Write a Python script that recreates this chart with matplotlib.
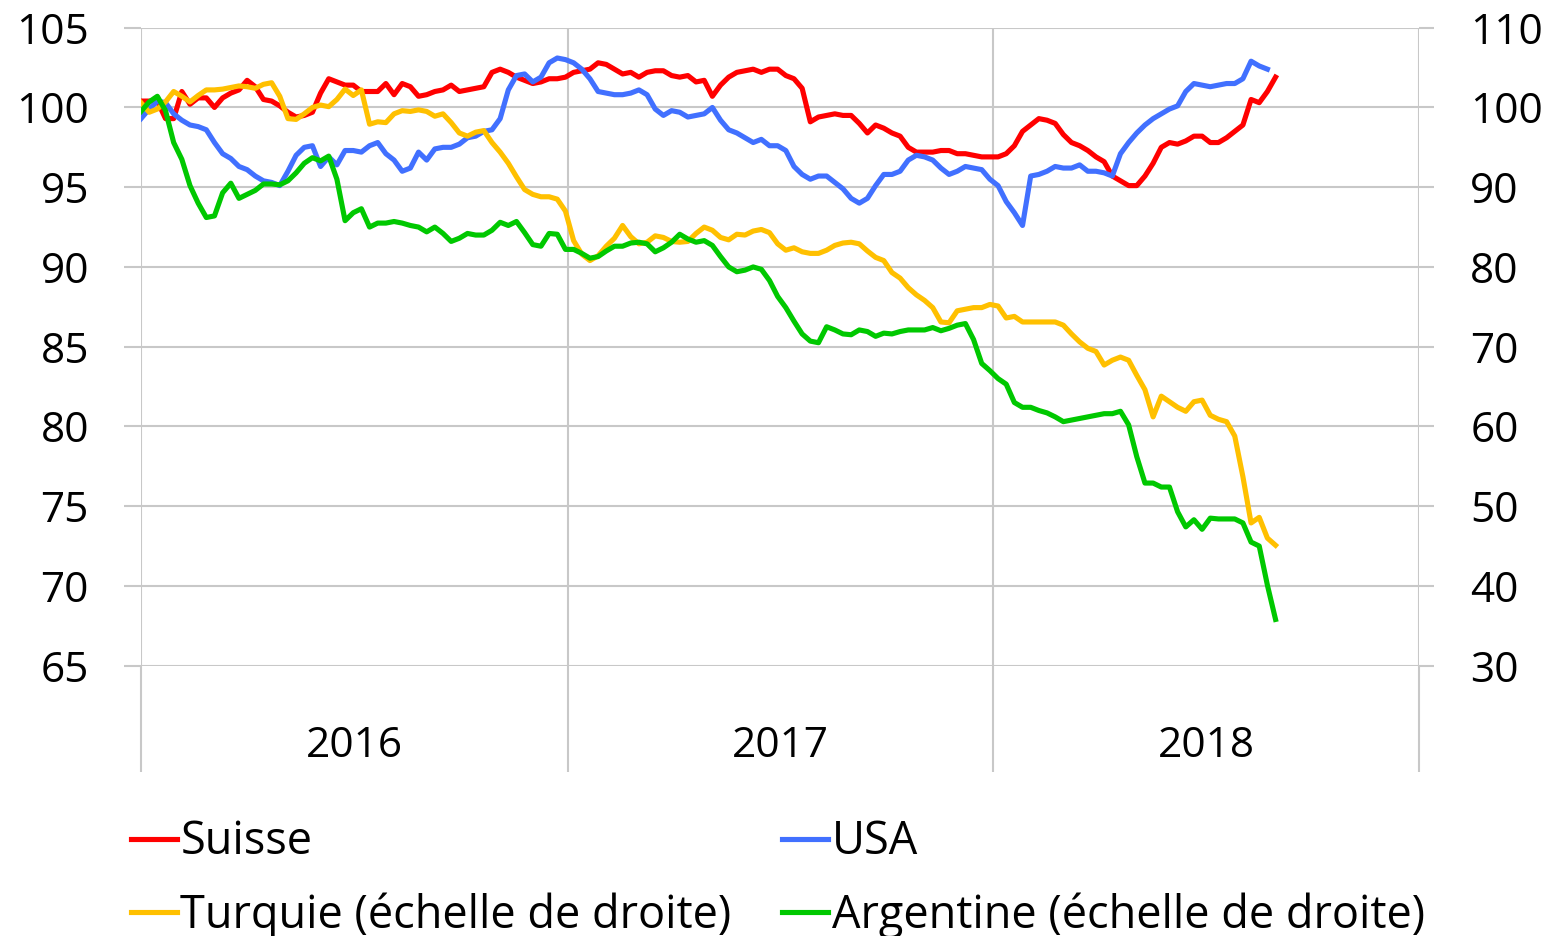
import matplotlib
matplotlib.use("Agg")
import matplotlib.pyplot as plt
import pandas as pd

# weekly index values, 2016-01-01 = start
weeks = pd.date_range("2016-01-01", periods=140, freq="7D")

suisse = [
    100.4, 100.4, 100.4, 99.3, 99.3, 101.0, 100.2, 100.6, 100.6, 100.0,
    100.6, 100.9, 101.1, 101.7, 101.3, 100.5, 100.4, 100.1, 99.7, 99.4,
    99.5, 99.7, 100.9, 101.8, 101.6, 101.4, 101.4, 101.0, 101.0, 101.0,
    101.5, 100.8, 101.5, 101.3, 100.7, 100.8, 101.0, 101.1, 101.4, 101.0,
    101.1, 101.2, 101.3, 102.2, 102.4, 102.2, 101.9, 101.7, 101.5, 101.6,
    101.8, 101.8, 101.9, 102.2, 102.3, 102.4, 102.8, 102.7, 102.4, 102.1,
    102.2, 101.9, 102.2, 102.3, 102.3, 102.0, 101.9, 102.0, 101.6, 101.7,
    100.7, 101.4, 101.9, 102.2, 102.3, 102.4, 102.2, 102.4, 102.4, 102.0,
    101.8, 101.2, 99.1, 99.4, 99.5, 99.6, 99.5, 99.5, 99.0, 98.4,
    98.9, 98.7, 98.4, 98.2, 97.5, 97.2, 97.2, 97.2, 97.3, 97.3,
    97.1, 97.1, 97.0, 96.9, 96.9, 96.9, 97.1, 97.6, 98.5, 98.9,
    99.3, 99.2, 99.0, 98.3, 97.8, 97.6, 97.3, 96.9, 96.6, 95.7,
    95.4, 95.1, 95.1, 95.7, 96.5, 97.5, 97.8, 97.7, 97.9, 98.2,
    98.2, 97.8, 97.8, 98.1, 98.5, 98.9, 100.5, 100.3, 101.0, 101.9,
]

usa = [
    99.3, 99.9, 100.4, 100.3, 99.6, 99.2, 98.9, 98.8, 98.6, 97.8,
    97.1, 96.8, 96.3, 96.1, 95.7, 95.4, 95.3, 95.1, 96.0, 97.0,
    97.5, 97.6, 96.3, 96.9, 96.4, 97.3, 97.3, 97.2, 97.6, 97.8,
    97.1, 96.7, 96.0, 96.2, 97.2, 96.7, 97.4, 97.5, 97.5, 97.7,
    98.1, 98.2, 98.5, 98.6, 99.3, 101.1, 102.0, 102.1, 101.6, 101.9,
    102.8, 103.1, 103.0, 102.8, 102.4, 101.8, 101.0, 100.9, 100.8, 100.8,
    100.9, 101.1, 100.8, 99.9, 99.5, 99.8, 99.7, 99.4, 99.5, 99.6,
    100.0, 99.2, 98.6, 98.4, 98.1, 97.8, 98.0, 97.6, 97.6, 97.3,
    96.3, 95.8, 95.5, 95.7, 95.7, 95.3, 94.9, 94.3, 94.0, 94.3,
    95.1, 95.8, 95.8, 96.0, 96.7, 97.0, 96.9, 96.7, 96.2, 95.8,
    96.0, 96.3, 96.2, 96.1, 95.5, 95.1, 94.1, 93.4, 92.6, 95.7,
    95.8, 96.0, 96.3, 96.2, 96.2, 96.4, 96.0, 96.0, 95.9, 95.7,
    97.1, 97.8, 98.4, 98.9, 99.3, 99.6, 99.9, 100.1, 101.0, 101.5,
    101.4, 101.3, 101.4, 101.5, 101.5, 101.8, 102.9, 102.6, 102.4,
]

# right-hand scale
turquie = [
    100.6, 99.4, 99.8, 100.7, 102.0, 101.4, 100.7, 101.5, 102.2, 102.2,
    102.3, 102.5, 102.7, 102.6, 102.4, 102.9, 103.1, 101.4, 98.6, 98.5,
    99.2, 100.0, 100.3, 100.1, 101.0, 102.3, 101.5, 102.2, 97.9, 98.2,
    98.1, 99.2, 99.6, 99.5, 99.7, 99.5, 98.9, 99.2, 98.1, 96.8,
    96.4, 96.9, 97.1, 95.6, 94.4, 93.0, 91.3, 89.7, 89.1, 88.8,
    88.8, 88.5, 87.0, 83.3, 81.6, 80.8, 81.4, 82.6, 83.6, 85.2,
    83.8, 82.9, 83.1, 83.9, 83.7, 83.2, 83.1, 83.2, 84.2, 85.0,
    84.6, 83.7, 83.4, 84.1, 84.0, 84.5, 84.7, 84.3, 82.9, 82.1,
    82.4, 81.9, 81.7, 81.7, 82.1, 82.7, 83.0, 83.1, 82.9, 82.0,
    81.2, 80.8, 79.3, 78.6, 77.4, 76.5, 75.8, 74.9, 73.1, 73.0,
    74.5, 74.7, 74.9, 74.9, 75.3, 75.1, 73.6, 73.8, 73.1, 73.1,
    73.1, 73.1, 73.1, 72.7, 71.6, 70.6, 69.8, 69.4, 67.7, 68.3,
    68.7, 68.3, 66.4, 64.6, 61.2, 63.8, 63.1, 62.4, 61.9, 63.1,
    63.3, 61.4, 60.9, 60.6, 58.8, 53.7, 47.9, 48.6, 46.0, 45.1,
]

argentine = [
    99.5, 100.7, 101.4, 99.6, 95.6, 93.5, 90.2, 88.0, 86.2, 86.4,
    89.3, 90.5, 88.6, 89.1, 89.6, 90.4, 90.4, 90.3, 90.8, 91.8,
    93.0, 93.7, 93.3, 93.9, 91.0, 85.8, 86.8, 87.3, 85.0, 85.5,
    85.5, 85.7, 85.5, 85.2, 85.0, 84.4, 85.0, 84.2, 83.2, 83.6,
    84.2, 84.0, 84.0, 84.6, 85.6, 85.2, 85.7, 84.3, 82.8, 82.6,
    84.2, 84.1, 82.2, 82.2, 81.7, 81.1, 81.3, 82.0, 82.6, 82.6,
    83.0, 83.1, 82.9, 81.9, 82.4, 83.1, 84.1, 83.5, 83.1, 83.3,
    82.7, 81.3, 80.0, 79.4, 79.6, 80.0, 79.7, 78.3, 76.3, 74.9,
    73.2, 71.6, 70.7, 70.5, 72.5, 72.1, 71.6, 71.5, 72.1, 71.9,
    71.3, 71.7, 71.6, 71.9, 72.1, 72.1, 72.1, 72.4, 72.0, 72.3,
    72.7, 72.9, 70.9, 67.9, 67.0, 66.0, 65.3, 63.0, 62.4, 62.4,
    62.0, 61.7, 61.2, 60.6, 60.8, 61.0, 61.2, 61.4, 61.6, 61.6,
    61.9, 60.2, 56.2, 52.9, 52.9, 52.4, 52.4, 49.3, 47.4, 48.3,
    47.1, 48.5, 48.4, 48.4, 48.4, 47.9, 45.5, 45.0, 40.1, 35.8,
]

years = ["2016", "2017", "2018"]

plt.rcParams["font.family"] = ["Open Sans", "DejaVu Sans"]
fs = 30.5
leg_fs = 32.5
grid_c = "#C8C8C8"


def main():
    fig = plt.figure(figsize=(15.53, 9.36), dpi=100)
    ax = fig.add_axes([0.0908, 0.2888, 0.8229, 0.6816])
    ax2 = ax.twinx()

    l1, = ax.plot(weeks[:len(suisse)], suisse, color="#FF0000", lw=3.7, label="Suisse")
    l2, = ax.plot(weeks[:len(usa)], usa, color="#4170FF", lw=3.7, label="USA")
    l3, = ax2.plot(weeks[:len(turquie)], turquie, color="#FFC000", lw=3.7,
                   label="Turquie (échelle de droite)")
    l4, = ax2.plot(weeks[:len(argentine)], argentine, color="#00C800", lw=3.7,
                   label="Argentine (échelle de droite)")

    starts = [pd.Timestamp(f"{y}-01-01") for y in range(2016, 2020)]
    mids = [starts[i] + (starts[i + 1] - starts[i]) / 2 for i in range(3)]
    ax.set_xlim(starts[0], starts[-1])
    ax.set_xticks(starts)
    ax.set_xticklabels([])
    ax.set_xticks(mids, minor=True)
    ax.set_xticklabels(years, minor=True)
    ax.tick_params(axis="x", which="major", length=76, width=1.5, color=grid_c)
    ax.tick_params(axis="x", which="minor", length=0, labelsize=fs, pad=42.5)

    ax.set_ylim(65, 105)
    ax.set_yticks(range(65, 106, 5))
    ax.tick_params(axis="y", length=12.5, width=1.5, color=grid_c, pad=25, labelsize=fs)
    ax2.set_ylim(30, 110)
    ax2.set_yticks(range(30, 111, 10))
    ax2.tick_params(axis="y", length=11, width=1.5, color=grid_c, pad=26, labelsize=fs)

    ax.grid(True, which="major", color=grid_c, lw=1.5)
    ax.set_axisbelow(True)
    for a in (ax, ax2):
        for s in a.spines.values():
            s.set_visible(False)

    fig.legend(handles=[l1, l3, l2, l4], ncol=2, loc="upper left",
               bbox_to_anchor=(0.0844, 0.1245), frameon=False, fontsize=leg_fs,
               handlelength=1.02, handletextpad=0.07, columnspacing=1.13,
               labelspacing=0.6, borderaxespad=0, borderpad=0)

    fig.savefig("out.png", dpi=100)


if __name__ == "__main__":
    main()
